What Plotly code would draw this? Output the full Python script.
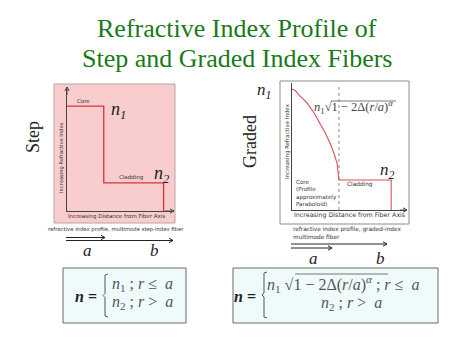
import plotly.graph_objects as go

W, H = 474, 355
def px(x): return x / W
def py(y): return 1 - y / H

# ---- data ----
step_r = [0, 0.35, 0.35, 0.92, 0.92]
step_n = [0.86, 0.86, 0.23, 0.23, 0.0]

graded_r = [0.0, 0.03, 0.061, 0.132, 0.19, 0.246, 0.29, 0.333, 0.365, 0.395, 0.405, 0.412, 0.87, 0.87]
graded_n = [0.953, 0.94, 0.906, 0.843, 0.77, 0.685, 0.61, 0.528, 0.455, 0.370, 0.31, 0.236, 0.236, 0.0]

core_edge_r = [0.412, 0.412]
core_edge_n = [0.0, 0.98]

title_lines = ["Refractive Index Profile of", "Step and Graded Index Fibers"]

fig = go.Figure()
fig.add_trace(go.Scatter(x=step_r, y=step_n, mode="lines",
                         line=dict(color="#d8343a", width=1.3),
                         xaxis="x", yaxis="y", hoverinfo="skip"))
fig.add_trace(go.Scatter(x=core_edge_r, y=core_edge_n, mode="lines",
                         line=dict(color="#8a8aa8", width=1, dash="dot"),
                         xaxis="x2", yaxis="y2", hoverinfo="skip"))
fig.add_trace(go.Scatter(x=graded_r, y=graded_n, mode="lines",
                         line=dict(color="#d8505a", width=1.1),
                         xaxis="x2", yaxis="y2", hoverinfo="skip"))

axis_common = dict(showgrid=False, zeroline=False, showticklabels=False, ticks="",
                   showline=True, linecolor="#444", linewidth=1, range=[0, 1], fixedrange=True)

fig.update_layout(
    width=W, height=H, margin=dict(l=0, r=0, t=0, b=0),
    paper_bgcolor="white", plot_bgcolor="rgba(0,0,0,0)", showlegend=False,
    xaxis=dict(domain=[px(67), px(172)], anchor="y", **axis_common),
    yaxis=dict(domain=[py(211), py(89)], anchor="x", **axis_common),
    xaxis2=dict(domain=[px(292), px(406)], anchor="y2", **axis_common),
    yaxis2=dict(domain=[py(210), py(83)], anchor="x2", **axis_common),
)

shapes = []
# step background box
shapes.append(dict(type="rect", xref="paper", yref="paper", x0=px(54), x1=px(175), y0=py(223), y1=py(84),
                   fillcolor="#f9cdcd", line=dict(color="#b8a4a4", width=1), layer="below"))
# graded box
shapes.append(dict(type="rect", xref="paper", yref="paper", x0=px(280), x1=px(409), y0=py(224), y1=py(81),
                   fillcolor="white", line=dict(color="#8c8c8c", width=1), layer="below"))
# formula boxes
shapes.append(dict(type="rect", xref="paper", yref="paper", x0=px(63), x1=px(186), y0=py(323), y1=py(268),
                   fillcolor="#effbfa", line=dict(color="#6a6a6a", width=1), layer="below"))
shapes.append(dict(type="rect", xref="paper", yref="paper", x0=px(233), x1=px(438), y0=py(323), y1=py(268),
                   fillcolor="#effbfa", line=dict(color="#6a6a6a", width=1), layer="below"))

def brace(xc, y0, y1):
    ym = (y0 + y1) / 2
    return (f"M {px(xc+3)},{py(y0)} L {px(xc)},{py(y0+1)} L {px(xc)},{py(ym-2)} "
            f"L {px(xc-2)},{py(ym)} L {px(xc)},{py(ym+2)} L {px(xc)},{py(y1-1)} L {px(xc+3)},{py(y1)}")
shapes.append(dict(type="path", xref="paper", yref="paper", path=brace(105, 274, 317),
                   line=dict(color="#555", width=1)))
shapes.append(dict(type="path", xref="paper", yref="paper", path=brace(264, 272, 318),
                   line=dict(color="#555", width=1)))
# overlines of square roots
shapes.append(dict(type="line", xref="paper", yref="paper", x0=px(331), x1=px(396), y0=py(101), y1=py(101),
                   line=dict(color="#555", width=0.8)))
shapes.append(dict(type="line", xref="paper", yref="paper", x0=px(295), x1=px(388), y0=py(274), y1=py(274),
                   line=dict(color="#555", width=0.8)))

def arrow(x0, y0, x1, y1, color="#222"):
    shapes.append(dict(type="line", xref="paper", yref="paper", x0=px(x0), y0=py(y0), x1=px(x1), y1=py(y1),
                       line=dict(color=color, width=1)))
    if y0 == y1:  # horizontal, pointing right
        p = f"M {px(x1-4)},{py(y1-2.2)} L {px(x1)},{py(y1)} L {px(x1-4)},{py(y1+2.2)}"
    else:  # vertical, pointing up
        p = f"M {px(x1-2.2)},{py(y1+4)} L {px(x1)},{py(y1)} L {px(x1+2.2)},{py(y1+4)}"
    shapes.append(dict(type="path", xref="paper", yref="paper", path=p, line=dict(color=color, width=1)))

# arrows under the panels
arrow(66, 237.5, 105, 237.5)
arrow(66, 240.5, 173, 240.5)
arrow(291, 244, 387, 244)
arrow(291, 248, 332, 248)
# axis arrowheads
arrow(67, 95, 67, 87, color="#444")
arrow(165, 211, 174, 211, color="#444")
arrow(400, 210, 407, 210, color="#444")
fig.update_layout(shapes=shapes)

ann = []
def T(x, y, text, size, color="#222", family="Liberation Serif", xanchor="center", textangle=0, yanchor="middle", align="center"):
    ann.append(dict(x=px(x), y=py(y), xref="paper", yref="paper", text=text, showarrow=False,
                    font=dict(size=size, color=color, family=family), xanchor=xanchor, yanchor=yanchor,
                    textangle=textangle, align=align))

# title
T(237, 28, title_lines[0], 26, color="#1a7a1a")
T(237, 58, title_lines[1], 26, color="#1a7a1a")

# side labels
T(33, 137, "Step", 18, textangle=-90)
T(250, 142, "Graded", 18, textangle=-90)

sans = "DejaVu Sans"
NB = "\u00a0"
# step panel labels
T(75, 101, "Core", 5.5, family=sans, xanchor="left", color="#333")
T(118, 110, "<i>n<sub>1</sub></i>", 18, color="#222")
T(117, 177, "Cladding", 5.5, family=sans, xanchor="left", color="#333")
T(162, 174, "<i>n<sub>2</sub></i>", 18, color="#222")
T(61, 158, "Increasing Refractive Index", 5.2, family=sans, textangle=-90, color="#333")
T(116, 216, "Increasing Distance from Fiber Axis", 5.5, family=sans, color="#333")
T(116, 229, "refractive index profile, multimode step-index fiber", 5.3, family=sans, color="#333")
T(87, 251, "<i>a</i>", 17)
T(154, 251, "<i>b</i>", 17)

# graded panel labels
T(264, 91, "<i>n<sub>1</sub></i>", 17, color="#222")
T(353, 107, "<i>n</i><sub>1</sub>√1 − 2Δ(<i>r</i>/<i>a</i>)<sup><i>α</i></sup>", 12.5, color="#444")
T(387, 171, "<i>n<sub>2</sub></i>", 17, color="#222")
T(345, 184, "Cladding", 5.8, family=sans, xanchor="left", color="#333")
T(294, 193, "Core<br>(Profile<br>approximately<br>Paraboloid)", 5.6, family=sans, xanchor="left", align="left", color="#333")
T(287, 141, "Increasing Refractive Index", 5.5, family=sans, textangle=-90, color="#333")
T(349, 215, "Increasing Distance from Fiber Axis", 6.3, family=sans, color="#333")
T(291, 229, "refractive index profile, graded-index", 5.8, family=sans, xanchor="left", color="#333")
T(291, 237, "multimode fiber", 5.8, family=sans, xanchor="left", color="#333")
T(313, 258, "<i>a</i>", 17)
T(380, 258, "<i>b</i>", 17)

# formula boxes
T(86, 296, "<b><i>n</i> =</b>", 16, color="#222")
T(110, 284, f"<i>n</i><sub>1</sub>{NB};{NB}<i>r</i>{NB}≤{NB}{NB}<i>a</i>", 16, color="#555", xanchor="left")
T(110, 302, f"<i>n</i><sub>2</sub>{NB};{NB}<i>r</i>{NB}>{NB}{NB}<i>a</i>", 16, color="#555", xanchor="left")
T(245, 296, "<b><i>n</i> =</b>", 16, color="#222")
T(265, 284, f"<i>n</i><sub>1</sub>{NB}√1{NB}−{NB}2Δ(<i>r</i>/<i>a</i>)<sup><i>α</i></sup>{NB};{NB}<i>r</i>{NB}≤{NB}{NB}<i>a</i>", 16, color="#555", xanchor="left")
T(351, 303, f"<i>n</i><sub>2</sub>{NB};{NB}<i>r</i>{NB}>{NB}{NB}<i>a</i>", 16, color="#555")

fig.update_layout(annotations=ann)
fig.write_html("out.html", post_script="document.body.style.margin='0';",
               config={"displayModeBar": False})
